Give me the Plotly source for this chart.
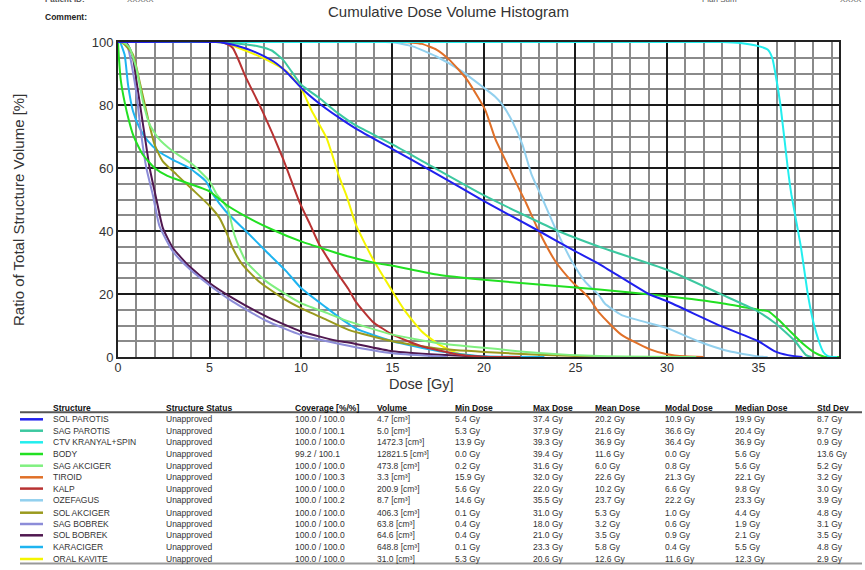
import plotly.graph_objects as go

# ---------------- DATA ----------------
structures = ["SOL PAROTIS", "SAG PAROTIS", "CTV KRANYAL+SPIN", "BODY", "SAG AKCIGER",
              "TIROID", "KALP", "OZEFAGUS", "SOL AKCIGER", "SAG BOBREK", "SOL BOBREK",
              "KARACIGER", "ORAL KAVITE"]
statuses = ["Unapproved"] * 13
coverage = ["100.0 / 100.0", "100.0 / 100.1", "100.0 / 100.0", "99.2 / 100.1", "100.0 / 100.0",
            "100.0 / 100.3", "100.0 / 100.0", "100.0 / 100.2", "100.0 / 100.0", "100.0 / 100.0",
            "100.0 / 100.0", "100.0 / 100.0", "100.0 / 100.0"]
volumes = [4.7, 5.0, 1472.3, 12821.5, 473.8, 3.3, 200.9, 8.7, 406.3, 63.8, 64.6, 648.8, 31.0]
min_dose = [5.4, 5.3, 13.9, 0.0, 0.2, 15.9, 5.6, 14.6, 0.1, 0.4, 0.4, 0.1, 5.3]
max_dose = [37.4, 37.9, 39.3, 39.4, 31.6, 32.0, 22.0, 35.5, 31.0, 18.0, 21.0, 23.3, 20.6]
mean_dose = [20.2, 21.6, 36.9, 11.6, 6.0, 22.6, 10.2, 23.7, 5.3, 3.2, 3.5, 5.8, 12.6]
modal_dose = [10.9, 36.6, 36.4, 0.0, 0.8, 21.3, 6.6, 22.2, 1.0, 0.6, 0.9, 0.4, 11.6]
median_dose = [19.9, 20.4, 36.9, 5.6, 5.6, 22.1, 9.8, 23.3, 4.4, 1.9, 2.1, 5.5, 12.3]
std_dev = [8.7, 9.7, 0.9, 13.6, 5.2, 3.2, 3.0, 3.9, 4.8, 3.1, 3.5, 4.8, 2.9]

header_labels = ["Structure", "Structure Status", "Coverage [%/%]", "Volume", "Min Dose",
                 "Max Dose", "Mean Dose", "Modal Dose", "Median Dose", "Std Dev"]

x_ticks = [0, 5, 10, 15, 20, 25, 30, 35]
y_ticks = [0, 20, 40, 60, 80, 100]

sol_parotis_dose = [0, 5.4, 5.8, 6.5, 7.5, 8.5, 9.2, 10, 11, 12, 13, 15, 17, 20, 23, 25, 26.3, 29, 30, 33, 35, 35.9, 36.6, 37.4]
sol_parotis_vol = [100, 100, 99.7, 98.8, 96.8, 93.8, 90.5, 85.5, 80.5, 76.3, 72.5, 66, 59.5, 49.5, 40, 33.5, 29.5, 20, 17.7, 9.7, 5, 1.8, 0.6, 0]

sag_parotis_dose = [0, 5.3, 6, 7, 7.7, 8.4, 9, 9.5, 10, 11, 12, 13, 15, 17, 20, 23.9, 26.3, 30, 33, 34.8, 35.9, 37, 37.6, 37.9]
sag_parotis_vol = [100, 100, 99.8, 99.2, 98.6, 97.3, 94.5, 90.5, 86.5, 82.2, 77.5, 73.5, 67.5, 61, 51.3, 40.4, 35, 27.7, 19.8, 15, 10.8, 5, 0.6, 0]

ctv_dose = [0, 33, 34, 35, 35.5, 35.75, 35.9, 36.2, 36.6, 36.8, 37.3, 37.7, 38.0, 38.3, 38.55, 38.8, 39.3]
ctv_vol = [100, 100, 99.7, 98.7, 97.6, 95, 90.8, 80, 60, 51.5, 35.6, 19.8, 11, 5, 1.5, 0.3, 0]

body_dose = [0, 0.05, 0.15, 0.36, 0.6, 0.82, 1.1, 1.36, 2, 2.7, 3.5, 5, 5.9, 6.8, 8.45, 10, 12.6, 14.1, 15, 17.5, 20, 23, 26.3, 30, 33, 35, 35.55, 36.1, 36.64, 37.4, 38.1, 38.6, 39.4]
body_vol = [100, 95, 88, 81, 75, 70.6, 67, 64.2, 60, 57.5, 55.8, 52.6, 48.4, 45.2, 40.4, 36.7, 31.9, 29.8, 29, 26.1, 24.5, 23, 21.4, 19.3, 17.1, 15, 14.5, 11.8, 8.7, 4.4, 1.3, 0.1, 0]

sag_akciger_dose = [0, 0.2, 0.45, 0.64, 1, 1.36, 1.73, 2.2, 3, 4.1, 5, 5.36, 5.7, 6, 6.36, 6.64, 7, 8.1, 9.2, 10, 11.4, 12.6, 15, 17.55, 20, 23, 26.3, 31.6]
sag_akciger_vol = [100, 100, 99.3, 98.1, 91.7, 81.2, 73.8, 69.5, 65.3, 61, 55.8, 52, 49.5, 47, 38.8, 34.6, 30.3, 24, 19.8, 17.1, 14, 11.3, 7.1, 4.4, 2.9, 1.3, 0.3, 0]

tiroid_dose = [0, 15.4, 16.1, 16.6, 17.4, 18.1, 19, 19.7, 20.1, 20.6, 21.2, 21.9, 22.3, 23, 23.9, 24.8, 25.7, 26.3, 27.5, 29, 30, 31, 32]
tiroid_vol = [100, 100, 99.8, 99.4, 97.6, 94.4, 88.6, 82.2, 78, 69.5, 62.1, 53.6, 48.9, 39.9, 30.4, 24, 19, 14, 7.1, 2.6, 0.9, 0.2, 0]

kalp_dose = [0, 5.6, 5.8, 6.27, 7, 7.9, 9, 9.9, 10.5, 11, 11.5, 12, 12.6, 13, 13.9, 15, 16.6, 18.5, 19.9, 22]
kalp_vol = [100, 100, 99.7, 98.1, 88.6, 78, 63.2, 49.4, 42, 35.7, 31, 26.5, 21.5, 17.5, 11.3, 7.1, 3.4, 0.9, 0.1, 0]

ozefagus_dose = [0, 14.6, 15, 16.1, 17.4, 18.8, 19.9, 20.6, 21, 21.55, 22.1, 22.6, 23.1, 23.9, 24.8, 25.55, 26.3, 26.6, 27.5, 29, 30, 31.7, 33.4, 35, 35.5]
ozefagus_vol = [100, 100, 99.9, 98.6, 95.4, 90.7, 85.9, 82.7, 80.1, 74.8, 67.4, 57.9, 51.5, 40.9, 30.4, 23.8, 19.5, 17, 13.4, 10.8, 9.2, 5, 1.8, 0.2, 0]

sol_akciger_dose = [0, 0.1, 0.3, 0.82, 1.18, 1.55, 2, 2.45, 3.2, 4.1, 5, 5.55, 5.9, 6.27, 6.8, 7.7, 9, 10, 11.4, 12.6, 15, 17.55, 20, 23, 26.3, 31]
sol_akciger_vol = [100, 100, 99.5, 96, 87.5, 78, 67.4, 62.1, 57.9, 53, 48, 44.1, 39.9, 34.6, 29.3, 24, 18.7, 15.5, 11.8, 8.6, 5, 2.6, 1.6, 0.7, 0.1, 0]

sag_bobrek_dose = [0, 0.4, 0.6, 0.8, 1.0, 1.27, 1.55, 1.9, 2.27, 3, 3.9, 5, 6.27, 8.1, 10, 12.6, 15, 17.5, 18]
sag_bobrek_vol = [100, 100, 97, 91, 84, 70.6, 60, 51.5, 41.5, 33.5, 28, 22.8, 17.6, 11.5, 7, 3.6, 1.2, 0.2, 0]

sol_bobrek_dose = [0, 0.4, 0.6, 0.82, 1.0, 1.45, 1.73, 2.1, 2.45, 3, 3.9, 5, 6.27, 8.1, 10, 12.1, 12.6, 15, 17.55, 20, 21]
sol_bobrek_vol = [100, 100, 98.5, 95, 88, 70.6, 60, 50, 41, 34.6, 28.8, 23.5, 18.7, 12.9, 8.1, 5.0, 4.6, 1.8, 0.7, 0.1, 0]

karaciger_dose = [0, 0.1, 0.36, 0.55, 0.82, 1.18, 1.64, 2.2, 3, 3.9, 4.8, 5.2, 5.9, 7, 8.1, 9.2, 10, 11.4, 12.1, 12.6, 13, 15, 17.55, 20, 23.3]
karaciger_vol = [100, 100, 96, 86.4, 78, 72.7, 68.5, 65.3, 62.6, 60, 55.8, 51.5, 46.2, 39.9, 33.5, 27.2, 21.9, 15.6, 12.5, 10.5, 9, 5, 1.8, 0.2, 0]

oral_kavite_dose = [0, 5.3, 5.7, 6.6, 8.1, 9.2, 10, 10.6, 11.4, 12.1, 12.5, 13, 13.9, 15, 15.7, 16.6, 17.55, 18.5, 19.7, 20.6]
oral_kavite_vol = [100, 100, 99.8, 98.1, 94.4, 90.7, 85.4, 78, 69.5, 57, 51, 42, 31.4, 20.8, 14.5, 8.1, 3.9, 1.3, 0.1, 0]

curve_doses = [sol_parotis_dose, sag_parotis_dose, ctv_dose, body_dose, sag_akciger_dose,
               tiroid_dose, kalp_dose, ozefagus_dose, sol_akciger_dose, sag_bobrek_dose,
               sol_bobrek_dose, karaciger_dose, oral_kavite_dose]
curve_vols = [sol_parotis_vol, sag_parotis_vol, ctv_vol, body_vol, sag_akciger_vol,
              tiroid_vol, kalp_vol, ozefagus_vol, sol_akciger_vol, sag_bobrek_vol,
              sol_bobrek_vol, karaciger_vol, oral_kavite_vol]

colors = ["#2020EE", "#3CC8A0", "#22EEEE", "#22E022", "#80F080", "#E07028", "#B83232",
          "#92D0EE", "#9A9A1E", "#8C8CD8", "#501850", "#1EB4F0", "#F5F500"]

# ---------------- LAYOUT HELPERS (pixel -> paper) ----------------
W, H = 865, 570
L, R, T, B = 118, 839, 42, 357
FONT = "Liberation Sans, Arial, sans-serif"


def px(x):
    return (x - L) / (R - L)


def py(y):
    return (B - y) / (B - T)


fig = go.Figure()

for i in reversed(range(len(structures))):
    fig.add_trace(go.Scatter(
        x=curve_doses[i], y=curve_vols[i], mode="lines", name=structures[i],
        line=dict(color=colors[i], width=2, shape="spline", smoothing=0.5),
        showlegend=False, hoverinfo="skip"))

shapes = []
annotations = []

# Axis titles and page header
annotations.append(dict(x=px(18), y=py(210), xref="paper", yref="paper", text="Ratio of Total Structure Volume [%]",
                        textangle=-90, showarrow=False, font=dict(family=FONT, size=15, color="#333"),
                        xanchor="center", yanchor="middle"))
annotations.append(dict(x=px(421), y=py(384), xref="paper", yref="paper", text="Dose [Gy]",
                        showarrow=False, font=dict(family=FONT, size=14.5, color="#333"),
                        xanchor="center", yanchor="middle"))
annotations.append(dict(x=px(448), y=py(12), xref="paper", yref="paper", text="Cumulative Dose Volume Histogram",
                        showarrow=False, font=dict(family=FONT, size=15, color="#333"),
                        xanchor="center", yanchor="middle"))
annotations.append(dict(x=px(43), y=py(17), xref="paper", yref="paper", text="<b>Comment:</b>",
                        showarrow=False, font=dict(family=FONT, size=8.5, color="#222"),
                        xanchor="left", yanchor="middle"))
for tx, txt in [(43, "<b>Patient ID:</b>"), (125, "XXXXX"), (700, "Plan Sum"), (838, "XXXX")]:
    annotations.append(dict(x=px(tx), y=py(-1), xref="paper", yref="paper", text=txt,
                            showarrow=False, font=dict(family=FONT, size=8, color="#555"),
                            xanchor="left", yanchor="middle"))

# Table
col_x = [51, 164, 293, 375, 453, 531, 593, 663, 733, 815]
row_y = [419.3, 430.7, 442.3, 454, 465.7, 477.3, 488.6, 500.3, 512.7, 524, 535.3, 547, 559]
header_y = 407.5

for cx, lab in zip(col_x, header_labels):
    annotations.append(dict(x=px(cx), y=py(header_y), xref="paper", yref="paper", text="<b>" + lab + "</b>",
                            showarrow=False, font=dict(family=FONT, size=8.5, color="#111"),
                            xanchor="left", yanchor="middle"))

shapes.append(dict(type="line", xref="paper", yref="paper", x0=px(20), x1=px(862), y0=py(412.3), y1=py(412.3),
                   line=dict(color="#555", width=2)))
shapes.append(dict(type="line", xref="paper", yref="paper", x0=px(20), x1=px(862), y0=py(563.5), y1=py(563.5),
                   line=dict(color="#999", width=2)))

for i in range(len(structures)):
    y = row_y[i]
    shapes.append(dict(type="line", xref="paper", yref="paper", x0=px(20), x1=px(43), y0=py(y), y1=py(y),
                       line=dict(color=colors[i], width=2.5)))
    cells = [structures[i], statuses[i], coverage[i], f"{volumes[i]:.1f} [cm³]",
             f"{min_dose[i]:.1f} Gy", f"{max_dose[i]:.1f} Gy", f"{mean_dose[i]:.1f} Gy",
             f"{modal_dose[i]:.1f} Gy", f"{median_dose[i]:.1f} Gy", f"{std_dev[i]:.1f} Gy"]
    for cx, txt in zip(col_x, cells):
        annotations.append(dict(x=px(cx), y=py(y), xref="paper", yref="paper", text=txt,
                                showarrow=False, font=dict(family=FONT, size=8.5, color="#333"),
                                xanchor="left", yanchor="middle"))

fig.update_layout(
    width=W, height=H,
    margin=dict(l=L, r=W - R, t=T, b=H - B, pad=0),
    paper_bgcolor="white", plot_bgcolor="white",
    shapes=shapes, annotations=annotations,
    font=dict(family=FONT, color="#333"),
    xaxis=dict(range=[0, 39.4], tickvals=x_ticks, ticktext=[str(v) for v in x_ticks],
               showgrid=True, gridcolor="#1a1a1a", gridwidth=1.6,
               minor=dict(dtick=1, tick0=0, showgrid=True, gridcolor="#8a8a8a", gridwidth=1.6),
               showline=True, linecolor="#222", linewidth=2, mirror=True, zeroline=False,
               ticks="", ticklabelstandoff=-2, tickfont=dict(family=FONT, size=12.5, color="#333")),
    yaxis=dict(range=[0, 100], tickvals=y_ticks, ticktext=[str(v) for v in y_ticks],
               showgrid=True, gridcolor="#1a1a1a", gridwidth=1.6,
               minor=dict(dtick=5, tick0=0, showgrid=True, gridcolor="#8a8a8a", gridwidth=1.6),
               showline=True, linecolor="#222", linewidth=2, mirror=True, zeroline=False,
               ticks="", tickfont=dict(family=FONT, size=13, color="#333")),
)

fig.write_html("out.html")
